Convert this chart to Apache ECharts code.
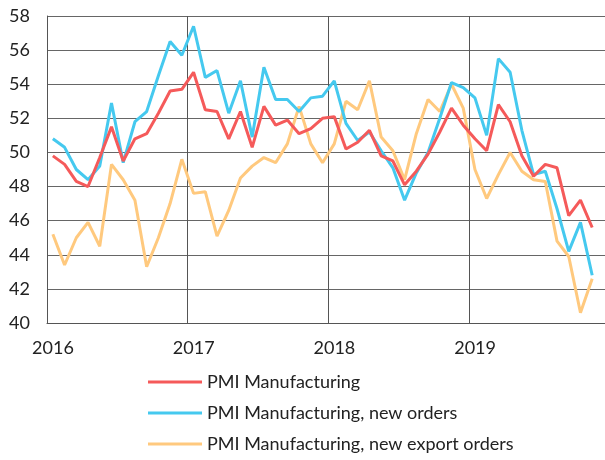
<!DOCTYPE html>
<html>
<head>
<meta charset="utf-8">
<script src="https://cdn.jsdelivr.net/npm/echarts@6/dist/echarts.min.js"></script>
<style>
  html, body { margin: 0; padding: 0; background: #fff; }
  #chart { width: 605px; height: 460px; }
</style>
</head>
<body>
<div id="chart"></div>
<script>
// monthly data, Jan 2016 .. Nov 2019
var months = []
for (var y = 2016; y <= 2019; y++) {
  for (var m = 1; m <= 12; m++) {
    if (y === 2019 && m > 11) break
    months.push(y + '-' + (m < 10 ? '0' + m : m))
  }
}

var pmi = [
  49.8, 49.3, 48.3, 48.0, 49.7, 51.5, 49.5, 50.8, 51.1, 52.3, 53.6, 53.7,
  54.7, 52.5, 52.4, 50.8, 52.4, 50.3, 52.7, 51.6, 51.9, 51.1, 51.4, 52.0,
  52.1, 50.2, 50.6, 51.3, 49.8, 49.5, 48.1, 48.9, 49.9, 51.2, 52.6, 51.6,
  50.8, 50.1, 52.8, 51.8, 49.8, 48.6, 49.3, 49.1, 46.3, 47.2, 45.6
]
var newOrders = [
  50.8, 50.3, 49.0, 48.4, 49.2, 52.9, 49.4, 51.8, 52.4, 54.5, 56.5, 55.7,
  57.4, 54.4, 54.8, 52.3, 54.2, 50.9, 55.0, 53.1, 53.1, 52.4, 53.2, 53.3,
  54.2, 51.7, 50.7, 51.2, 50.1, 49.1, 47.2, 48.8, 50.0, 52.0, 54.1, 53.8,
  53.2, 51.0, 55.5, 54.7, 51.3, 48.7, 48.9, 46.7, 44.2, 45.9, 42.8
]
var exportOrders = [
  45.2, 43.4, 45.0, 45.9, 44.5, 49.3, 48.4, 47.2, 43.3, 45.0, 47.0, 49.6,
  47.6, 47.7, 45.1, 46.6, 48.5, 49.2, 49.7, 49.4, 50.5, 52.7, 50.5, 49.4,
  50.5, 53.0, 52.5, 54.2, 50.9, 50.1, 48.4, 51.1, 53.1, 52.4, 54.0, 52.6,
  49.0, 47.3, 48.7, 50.0, 48.9, 48.4, 48.3, 44.8, 43.9, 40.6, 42.6
]
var seriesNames = ['PMI Manufacturing', 'PMI Manufacturing, new orders', 'PMI Manufacturing, new export orders']
var colors = ['#f55a5a', '#45c9ef', '#ffc97e']

// place each month at its middle
function toX(key) {
  var p = key.split('-')
  return +p[0] + (+p[1] - 0.5) / 12
}
function pairs(values) {
  return values.map(function (v, i) { return [toX(months[i]), v] })
}

var font = 'Lato, "Noto Sans", sans-serif'
var chart = echarts.init(document.getElementById('chart'))
chart.setOption({
  animation: false,
  textStyle: { fontFamily: font },
  grid: { left: 47, top: 16, right: 0, bottom: 137 },
  legend: {
    orient: 'vertical',
    left: 148,
    top: 373,
    padding: 0,
    itemWidth: 54,
    itemHeight: 3,
    itemGap: 13,
    icon: 'rect',
    textStyle: { fontSize: 18, color: '#222', fontFamily: font },
    data: seriesNames
  },
  xAxis: {
    type: 'value',
    min: 2016,
    max: 2019.966,
    interval: 1,
    axisLine: { show: true, lineStyle: { color: '#555', width: 1 } },
    axisTick: { show: false },
    splitLine: { show: true, lineStyle: { color: '#555', width: 1 } },
    axisLabel: {
      color: '#222', fontSize: 18, margin: 16,
      padding: [0, 0, 0, 12],
      showMaxLabel: false,
      formatter: function (v) { return String(Math.round(v)) }
    }
  },
  yAxis: {
    type: 'value',
    min: 40,
    max: 58,
    interval: 2,
    axisLine: { show: true, lineStyle: { color: '#555', width: 1 } },
    axisTick: { show: false },
    splitLine: { show: true, lineStyle: { color: '#666', width: 1 } },
    axisLabel: { color: '#222', fontSize: 18, margin: 17 }
  },
  series: [
    { name: seriesNames[0], type: 'line', data: pairs(pmi), z: 4,
      showSymbol: false, lineStyle: { color: colors[0], width: 3 }, itemStyle: { color: colors[0] } },
    { name: seriesNames[1], type: 'line', data: pairs(newOrders), z: 3,
      showSymbol: false, lineStyle: { color: colors[1], width: 3 }, itemStyle: { color: colors[1] } },
    { name: seriesNames[2], type: 'line', data: pairs(exportOrders), z: 2,
      showSymbol: false, lineStyle: { color: colors[2], width: 3 }, itemStyle: { color: colors[2] } }
  ]
})
</script>
</body>
</html>
